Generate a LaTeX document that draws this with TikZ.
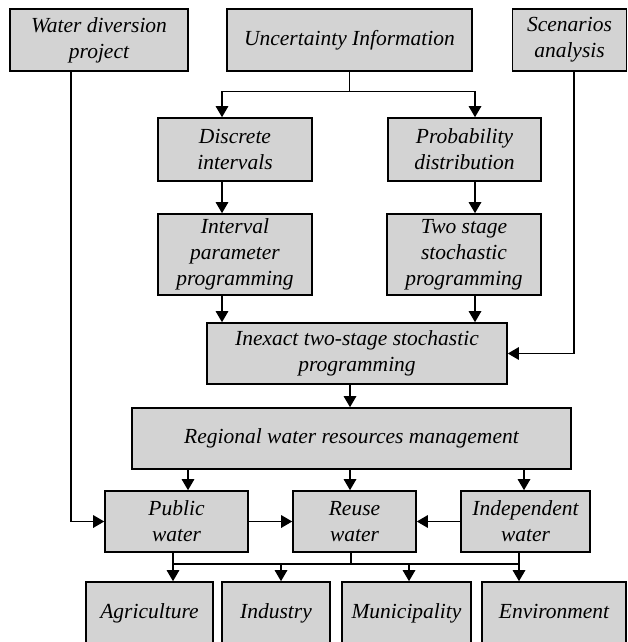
\documentclass[tikz,border=0pt]{standalone}
\usepackage{fontspec}
\setmainfont{Liberation Serif}
\usetikzlibrary{arrows.meta}
\definecolor{boxgray}{RGB}{211,211,211}
\begin{document}
\begin{tikzpicture}[x=1pt,y=-1pt,
  box/.style={draw=black, line width=1.6pt, fill=boxgray, align=center, inner sep=0pt,
    font=\fontsize{21.5}{26}\selectfont\itshape},
  conn/.style={line width=1.3pt, -{Triangle[length=11pt,width=12.5pt]}},
  wire/.style={line width=1.3pt}]
\clip (0,0) rectangle (628,642);
\fill[white] (0,0) rectangle (628,642);
% nodes
\node[box, minimum width=178pt, minimum height=62pt] (wd) at (99,40) {Water diversion\\project};
\node[box, minimum width=245pt, minimum height=62pt] (ui) at (349.5,40) {Uncertainty Information};
\node[box, minimum width=114pt, minimum height=62pt] (sa) at (569.5,40) {Scenarios\\analysis};
\node[box, minimum width=154pt, minimum height=63pt] (di) at (235,149.5) {Discrete\\intervals};
\node[box, minimum width=153pt, minimum height=63pt] (pd) at (464.5,149.5) {Probability\\distribution};
\node[box, minimum width=154pt, minimum height=81pt] (ipp) at (235,254.5) {Interval\\parameter\\programming};
\node[box, minimum width=154pt, minimum height=81pt] (tsp) at (464,254.5) {Two stage\\stochastic\\programming};
\node[box, minimum width=300pt, minimum height=61pt] (isp) at (357,353.5) {Inexact two-stage stochastic\\programming};
\node[box, minimum width=439pt, minimum height=61pt] (rwm) at (351.5,438.5) {Regional water resources management};
\node[box, minimum width=143pt, minimum height=61pt] (pw) at (176.5,521.5) {Public\\water};
\node[box, minimum width=123pt, minimum height=61pt] (rw) at (354.5,521.5) {Reuse\\water};
\node[box, minimum width=129pt, minimum height=61pt] (iw) at (525.5,521.5) {Independent\\water};
\node[box, minimum width=127pt, minimum height=63pt] (ag) at (149.5,613.5) {Agriculture};
\node[box, minimum width=108pt, minimum height=63pt] (in) at (276,613.5) {Industry};
\node[box, minimum width=129pt, minimum height=63pt] (mu) at (406.5,613.5) {Municipality};
\node[box, minimum width=144pt, minimum height=63pt] (en) at (554,613.5) {Environment\vphantom{g}};
% helper x positions
\coordinate (xl) at (222,0);
\coordinate (xr) at (475,0);
\coordinate (xs) at (574,0);
\coordinate (xm) at (350,0);
\coordinate (xp) at (188,0);
\coordinate (xi) at (524,0);
\coordinate (xw) at (71,0);
\coordinate (b1) at (173,564);
\coordinate (b2) at (281,564);
\coordinate (b3) at (351,564);
\coordinate (b4) at (409,564);
\coordinate (b5) at (519,564);
% connectors
\draw[wire] (ui.south) -- ++(0,20) coordinate (uib);
\draw[conn] (uib) -| (di.north -| xl);
\draw[conn] (uib) -| (pd.north -| xr);
\draw[conn] (di.south -| xl) -- (ipp.north -| xl);
\draw[conn] (pd.south -| xr) -- (tsp.north -| xr);
\draw[conn] (ipp.south -| xl) -- (isp.north -| xl);
\draw[conn] (tsp.south -| xr) -- (isp.north -| xr);
\draw[conn] (sa.south -| xs) |- (isp.east);
\draw[conn] (isp.south -| xm) -- (rwm.north -| xm);
\draw[conn] (rwm.south -| xp) -- (pw.north -| xp);
\draw[conn] (rwm.south -| xm) -- (rw.north -| xm);
\draw[conn] (rwm.south -| xi) -- (iw.north -| xi);
\draw[conn] (wd.south -| xw) |- (pw.west);
\draw[conn] (pw.east) -- (rw.west);
\draw[conn] (iw.west) -- (rw.east);
\draw[wire] (pw.south -| b1) -- (b1) -- (b5);
\draw[wire] (rw.south -| b3) -- (b3);
\draw[wire] (iw.south -| b5) -- (b5);
\draw[conn] (b1) -- (ag.north -| b1);
\draw[conn] (b2) -- (in.north -| b2);
\draw[conn] (b4) -- (mu.north -| b4);
\draw[conn] (b5) -- (en.north -| b5);
\end{tikzpicture}
\end{document}
